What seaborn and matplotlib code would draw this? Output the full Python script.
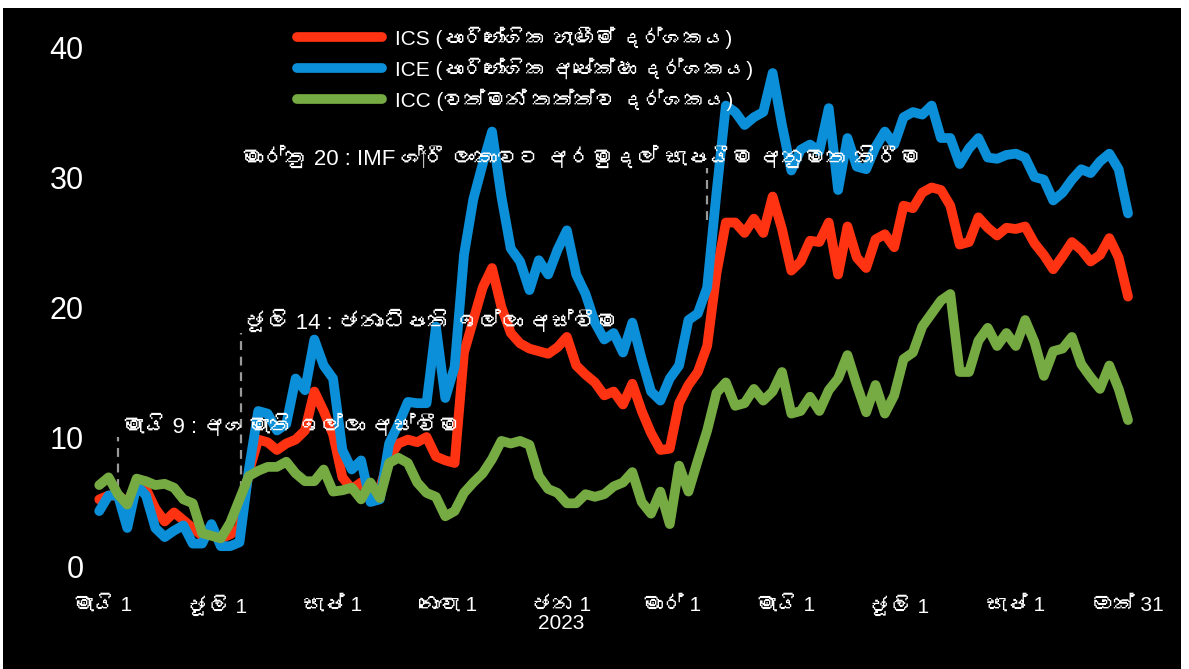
import pandas as pd
import matplotlib
matplotlib.use("Agg")
import matplotlib.pyplot as plt
import matplotlib.dates as mdates
from matplotlib import font_manager
from matplotlib.ft2font import FT2Font
from matplotlib.patches import Rectangle
import seaborn as sns

# Consumer confidence indices (5-day steps)
dates = pd.date_range("2022-04-29", "2023-10-31", freq="5D")

ics = [5.2, 5.5, 5.5, 5.0, 6.3, 6.0, 4.5, 3.5, 4.2, 3.6, 3.0, 2.4, 2.8, 2.2, 2.5, 3.0, 7.3, 9.8, 9.6, 9.0,
       9.5, 9.8, 10.5, 13.5, 12.0, 10.2, 6.9, 6.0, 6.5, 5.5, 6.0, 8.4, 9.5, 9.8, 9.6, 10.0, 8.5, 8.2, 8.0, 16.5,
       19.0, 21.5, 23.0, 20.0, 18.0, 17.2, 16.8, 16.6, 16.4, 16.9, 17.7, 15.5, 14.8, 14.2, 13.2, 13.5, 12.5, 14.1, 12.0, 10.3,
       9.0, 9.1, 12.6, 14.0, 15.0, 17.0, 22.6, 26.5, 26.5, 25.7, 26.8, 25.7, 28.5, 26.0, 22.8, 23.5, 25.1, 25.0, 26.5, 22.5,
       26.2, 23.8, 23.0, 25.2, 25.6, 24.6, 27.8, 27.6, 28.8, 29.2, 29.0, 27.8, 24.8, 25.0, 26.9, 26.1, 25.5, 26.1, 26.0, 26.2,
       24.9, 24.0, 22.9, 23.9, 25.0, 24.4, 23.5, 24.0, 25.3, 23.8, 20.8]

ice = [4.3, 5.5, 5.5, 3.0, 6.3, 5.5, 3.0, 2.3, 2.8, 3.2, 1.8, 1.8, 3.3, 1.6, 1.6, 1.9, 7.5, 12.0, 11.8, 10.5,
       11.0, 14.5, 13.6, 17.5, 15.5, 14.5, 9.0, 7.5, 8.2, 5.0, 5.2, 9.5, 11.0, 12.7, 12.6, 12.6, 18.5, 13.0, 15.4, 24.0,
       28.3, 31.0, 33.5, 28.5, 24.5, 23.5, 21.3, 23.6, 22.5, 24.4, 25.9, 22.5, 21.0, 18.8, 17.5, 18.0, 16.5, 18.8, 16.0, 13.5,
       12.8, 14.5, 15.5, 19.0, 19.5, 21.5, 28.8, 35.5, 35.0, 34.0, 34.6, 35.0, 38.0, 34.0, 30.5, 32.1, 32.5, 32.0, 35.3, 29.0,
       33.0, 30.8, 30.6, 32.3, 33.5, 32.5, 34.6, 35.0, 34.8, 35.5, 33.0, 33.0, 31.0, 32.2, 33.0, 31.5, 31.4, 31.7, 31.8, 31.5,
       30.0, 29.8, 28.2, 28.8, 29.8, 30.6, 30.3, 31.2, 31.8, 30.6, 27.2]

icc = [6.3, 6.9, 5.6, 4.8, 6.8, 6.6, 6.3, 6.4, 6.1, 5.2, 4.9, 2.6, 2.4, 2.2, 3.4, 5.2, 7.0, 7.4, 7.7, 7.7,
       8.1, 7.2, 6.6, 6.6, 7.5, 5.8, 5.9, 6.1, 5.2, 6.5, 5.3, 8.0, 8.4, 8.0, 6.5, 5.7, 5.4, 3.9, 4.3, 5.7,
       6.5, 7.2, 8.3, 9.7, 9.5, 9.7, 9.4, 7.0, 6.0, 5.7, 4.9, 4.9, 5.6, 5.4, 5.6, 6.2, 6.5, 7.3, 5.0, 4.1,
       5.8, 3.3, 7.8, 5.8, 8.2, 10.5, 13.4, 14.2, 12.4, 12.6, 13.7, 12.8, 13.5, 15.0, 11.8, 12.0, 13.1, 12.0, 13.6, 14.5,
       16.3, 14.0, 11.9, 14.0, 11.8, 13.2, 16.0, 16.5, 18.5, 19.5, 20.5, 21.0, 15.0, 15.0, 17.4, 18.4, 17.0, 18.0, 17.0, 19.0,
       17.3, 14.7, 16.6, 16.8, 17.7, 15.6, 14.6, 13.7, 15.5, 13.7, 11.3]

series_names = ["ICS (පාරිභෝගික හැඟීම් දර්ශකය)",
                "ICE (පාරිභෝගික අපේක්ෂා දර්ශකය)",
                "ICC (වත්මන් තත්ත්ව දර්ශකය)"]
series_colors = ["#ff3311", "#0b8fd8", "#76aa43"]

tick_dates = ["2022-05-01", "2022-07-01", "2022-09-01", "2022-11-01", "2023-01-01",
              "2023-03-01", "2023-05-01", "2023-07-01", "2023-09-01", "2023-10-31"]
tick_labels = ["මැයි 1", "ජූලි 1", "සැප් 1", "නොවැ 1", "ජන 1\n2023",
               "මාර් 1", "මැයි 1", "ජූලි 1", "සැප් 1", "ඔක් 31"]

# events: (date, text x date, dashed line from, to, text y)
events = [
    ("2022-05-09", "2022-05-11", 6.1, 10.0, 10.3, "මැයි 9 : අගමැති ඉල්ලා අස්වීම"),
    ("2022-07-14", "2022-07-16", 5.9, 18.0, 18.3, "ජූලි 14 : ජනාධිපති ඉල්ලා අස්වීම"),
    ("2023-03-20", "2022-07-14", 26.7, 30.7, 30.9,
     "මාර්තු 20 : IMF ශ්‍රී ලංකාවට අරමුදල් සැපයීම අනුමත කිරීම"),
]


def find_sinhala_font():
    """Return the name of an installed font with Sinhala glyphs, if any."""
    for f in font_manager.fontManager.ttflist:
        try:
            if 0x0DC3 in FT2Font(f.fname).get_charmap():
                return f.name
        except Exception:
            continue
    return None


sns.set_theme(style="dark", rc={"axes.facecolor": "black", "figure.facecolor": "white"})
families = ["Liberation Sans", "DejaVu Sans"]
sinhala = find_sinhala_font()
if sinhala:
    families.insert(1, sinhala)
plt.rcParams["font.family"] = families

df = pd.DataFrame({"date": dates, series_names[0]: ics,
                   series_names[1]: ice, series_names[2]: icc})
long_df = df.melt(id_vars="date", var_name="series", value_name="value")

fig = plt.figure(figsize=(11.89, 6.69), dpi=100)
fig.add_artist(Rectangle((3 / 1189, 0), 1178 / 1189, 661 / 669,
                         transform=fig.transFigure, facecolor="black",
                         edgecolor="none", zorder=-10))
ax = fig.add_axes([88 / 1189, 1 - 590 / 669, 1055 / 1189, 570 / 669])
ax.set_facecolor("black")

sns.lineplot(data=long_df, x="date", y="value", hue="series",
             palette=dict(zip(series_names, series_colors)),
             linewidth=7, ax=ax)

ax.set_xlim(pd.Timestamp("2022-04-23"), pd.Timestamp("2023-11-08"))
ax.set_ylim(-1.77, 42.08)
ax.set_xlabel("")
ax.set_ylabel("")
ax.grid(False)
for s in ax.spines.values():
    s.set_visible(False)

ax.set_yticks([0, 10, 20, 30, 40])
ax.set_yticklabels(["0", "10", "20", "30", "40"], fontsize=22, color="white")
ax.set_xticks([mdates.date2num(pd.Timestamp(d)) for d in tick_dates])
ax.set_xticklabels(tick_labels, fontsize=15, color="white", linespacing=0.95,
                   family=["Liberation Sans Narrow"] + families)
ax.tick_params(axis="both", length=0)
ax.tick_params(axis="y", pad=3)
ax.tick_params(axis="x", pad=4)

for line_date, text_date, y0, y1, ty, txt in events:
    ax.vlines(pd.Timestamp(line_date), y0, y1, colors="#9a9a9a",
              linestyles=(0, (4, 3)), linewidth=1.6, zorder=1)
    ax.text(mdates.date2num(pd.Timestamp(text_date)), ty, txt, color="white",
            fontsize=16, ha="left", va="baseline", zorder=5)

handles, labels = ax.get_legend_handles_labels()
ax.legend(handles, labels, loc="upper left", bbox_to_anchor=(0.18, 1.022),
          frameon=False, fontsize=15, handlelength=4.1, handletextpad=0.6,
          labelspacing=0.42, labelcolor="white")

fig.savefig("out.png", dpi=100)
